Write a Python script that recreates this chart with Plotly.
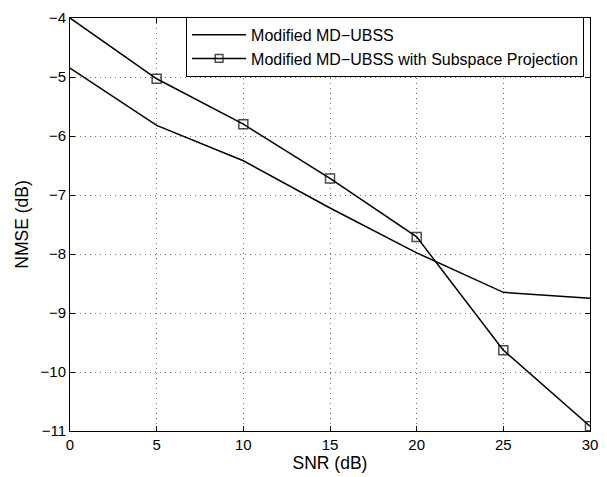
import plotly.graph_objects as go

snr = [0, 5, 10, 15, 20, 25, 30]
nmse_md_ubss = [-4.85, -5.82, -6.42, -7.22, -7.98, -8.65, -8.75]
nmse_subspace = [-4.0, -5.03, -5.80, -6.72, -7.71, -9.63, -10.92]
marker_sizes = [0, 9, 9, 9, 9, 9, 9]

font = dict(family="Liberation Sans, Arial, sans-serif", color="black")

fig = go.Figure()
fig.add_trace(go.Scatter(
    x=snr, y=nmse_md_ubss, mode="lines", name="Modified MD\u2212UBSS",
    line=dict(color="black", width=1.5)))
fig.add_trace(go.Scatter(
    x=snr, y=nmse_subspace, mode="lines+markers",
    name="Modified MD\u2212UBSS with Subspace Projection",
    line=dict(color="black", width=1.5),
    marker=dict(symbol="square-open", size=marker_sizes, color="black",
                line=dict(width=1.5, color="black"))))

axis_common = dict(
    showline=True, linecolor="black", linewidth=1, mirror="ticks",
    ticks="inside", ticklen=5, tickcolor="black",
    showgrid=True, gridcolor="#707070", griddash="1px,4px", gridwidth=1,
    zeroline=False, tickfont=dict(size=15, **font),
)

fig.update_layout(
    width=607, height=477,
    margin=dict(l=70, r=9, t=16, b=46),
    paper_bgcolor="white", plot_bgcolor="white",
    font=font,
    xaxis=dict(range=[0, 30], tickvals=[0, 5, 10, 15, 20, 25, 30],
               title=dict(text="SNR (dB)", font=dict(size=17.5, **font), standoff=2),
               **axis_common),
    yaxis=dict(range=[-11, -4], tickvals=[-11, -10, -9, -8, -7, -6, -5, -4],
               title=dict(text="NMSE (dB)", font=dict(size=17.5, **font), standoff=7),
               **axis_common),
    legend=dict(x=0.9886, y=1.003, xanchor="right", yanchor="top",
                bordercolor="black", borderwidth=1, bgcolor="white",
                font=dict(size=16, **font), itemwidth=54,
                tracegroupgap=0),
    showlegend=True,
)

fig.write_html("out.html", config={"displayModeBar": False},
               post_script="document.body.style.margin='0';")
